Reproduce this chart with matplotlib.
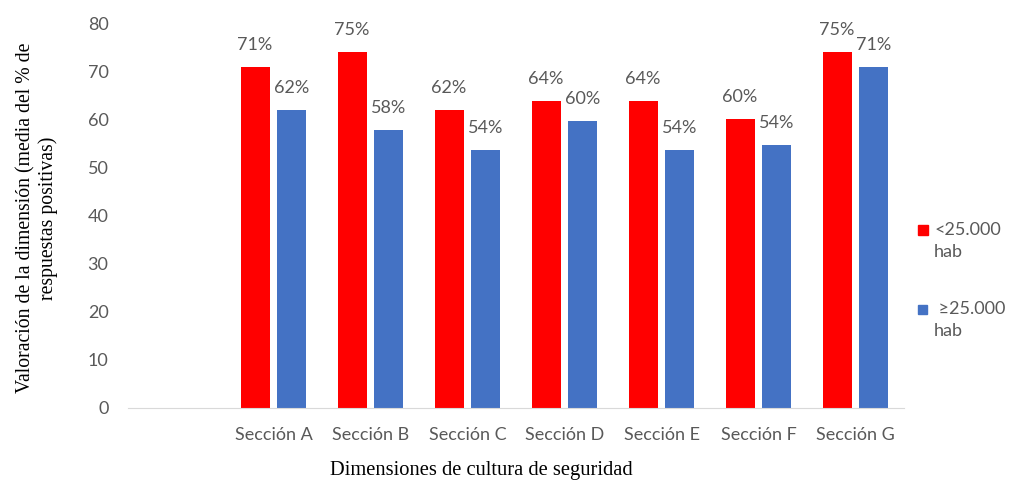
import numpy as np
import matplotlib
import matplotlib.pyplot as plt
from matplotlib.patches import Rectangle
matplotlib.use('Agg')

# datos
secciones = ['Sección A', 'Sección B', 'Sección C', 'Sección D',
             'Sección E', 'Sección F', 'Sección G']
menor_25 = [71, 74.2, 62, 64, 64, 60.2, 74.2]
mayor_25 = [62, 58, 53.8, 59.8, 53.8, 54.8, 71]
etiq_menor = ['71%', '75%', '62%', '64%', '64%', '60%', '75%']
etiq_mayor = ['62%', '58%', '54%', '60%', '54%', '54%', '71%']
leyenda = ['<25.000', ' ≥25.000']

gris = '#595959'
rojo = '#ff0000'
azul = '#4472c4'
fuente = 'Lato'
serif = 'Liberation Serif'

fig = plt.figure(figsize=(10.1, 4.83), dpi=100)
ax = fig.add_axes([128/1010, 75/483, 776/1010, 384/483])

x = np.arange(len(secciones))
ancho = 0.30
desp = 0.19
b1 = ax.bar(x - desp, menor_25, ancho, color=rojo)
b2 = ax.bar(x + desp, mayor_25, ancho, color=azul)

for barras, etiquetas in [(b1, etiq_menor), (b2, etiq_mayor)]:
    for rect, txt in zip(barras, etiquetas):
        ax.text(rect.get_x() + rect.get_width()/2, rect.get_height() + 4.6, txt,
                ha='center', va='center', fontsize=13, color=gris, family=fuente)

ax.set_xlim(-1.5, 6.5)
ax.set_ylim(0, 80)
ax.set_yticks(range(0, 81, 10))
ax.set_xticks(x)
ax.set_xticklabels(secciones, fontsize=13, color=gris, family=fuente)
for lbl in ax.get_yticklabels():
    lbl.set_fontsize(13)
    lbl.set_color(gris)
    lbl.set_family(fuente)
ax.tick_params(axis='y', length=0, pad=14)
ax.tick_params(axis='x', length=0, pad=14)

for s in ['top', 'right', 'left']:
    ax.spines[s].set_visible(False)
ax.spines['bottom'].set_color('#d9d9d9')

# leyenda a mano (texto en dos lineas como en el original)
for i, (col, txt) in enumerate(zip([rojo, azul], leyenda)):
    ytop = 225 + i * 79
    lado = 10 - i
    fig.patches.append(Rectangle((918/1010, 1 - (ytop + 10)/483), lado/1010, lado/483,
                                 transform=fig.transFigure, color=col))
    fig.text(934/1010, 1 - (ytop + 5)/483, txt, ha='left', va='center',
             family=fuente, fontsize=13, color=gris)
    fig.text(934/1010, 1 - (ytop + 27)/483, 'hab', ha='left', va='center',
             family=fuente, fontsize=13, color=gris)

fig.text(37/1010, 1 - 218/483,
         'Valoración de la dimensión (media del % de\nrespuestas positivas)',
         rotation=90, ha='center', va='center', family=serif, fontsize=14.2,
         linespacing=1.2)
fig.text(481/1010, 1 - 470/483, 'Dimensiones de cultura de seguridad',
         ha='center', va='center', family=serif, fontsize=14.8)

fig.savefig('out.png', dpi=100)
